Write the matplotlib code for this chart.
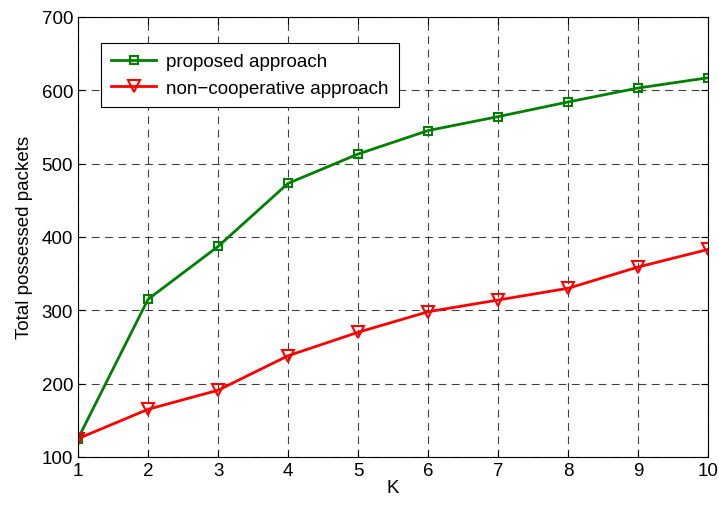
import matplotlib
matplotlib.use("Agg")
import matplotlib.pyplot as plt


K = [1, 2, 3, 4, 5, 6, 7, 8, 9, 10]

proposed = [125, 315, 387, 473, 513, 545, 564, 584, 603, 617]
non_coop = [125, 165, 191, 238, 270, 298, 314, 330, 359, 383]

y_ticks = [100, 200, 300, 400, 500, 600, 700]


def main():

    plt.rcParams["font.family"] = ["Liberation Sans", "DejaVu Sans"]

    fig = plt.figure(figsize=(7.19, 5.10), dpi=100)
    ax = fig.add_axes([0.1085, 0.102, 0.8765, 0.863])

    ax.plot(
        K, proposed,
        color="#008000", linewidth=2,
        marker="s", markersize=5.5,
        markerfacecolor="none", markeredgewidth=1.5,
        label="proposed approach"
    )

    ax.plot(
        K, non_coop,
        color="#ff0000", linewidth=2,
        marker="v", markersize=8,
        markerfacecolor="none", markeredgewidth=1.5,
        label="non\u2212cooperative approach"
    )

    ax.set_xlim(1, 10)
    ax.set_ylim(100, 700)
    ax.set_xticks(K)
    ax.set_yticks(y_ticks)

    ax.grid(True, color="black", linestyle=(0, (7, 5)), linewidth=0.8, alpha=0.75)

    ax.tick_params(
        direction="in", top=True, right=True,
        labelsize=13.5, length=5, width=0.8
    )

    ax.set_xlabel("K", fontsize=13.5, labelpad=0)
    ax.set_ylabel("Total possessed packets", fontsize=13.5, labelpad=6)

    leg = ax.legend(
        loc="upper left",
        bbox_to_anchor=(0.0365, 0.941),
        borderaxespad=0,
        fontsize=13.5,
        fancybox=False,
        framealpha=1,
        edgecolor="black",
        borderpad=0.55,
        handlelength=2.4,
        handletextpad=0.5,
        labelspacing=0.5
    )
    leg.get_frame().set_linewidth(0.8)

    fig.savefig("out.png", dpi=100)
    plt.close(fig)


if __name__ == "__main__":
    main()
